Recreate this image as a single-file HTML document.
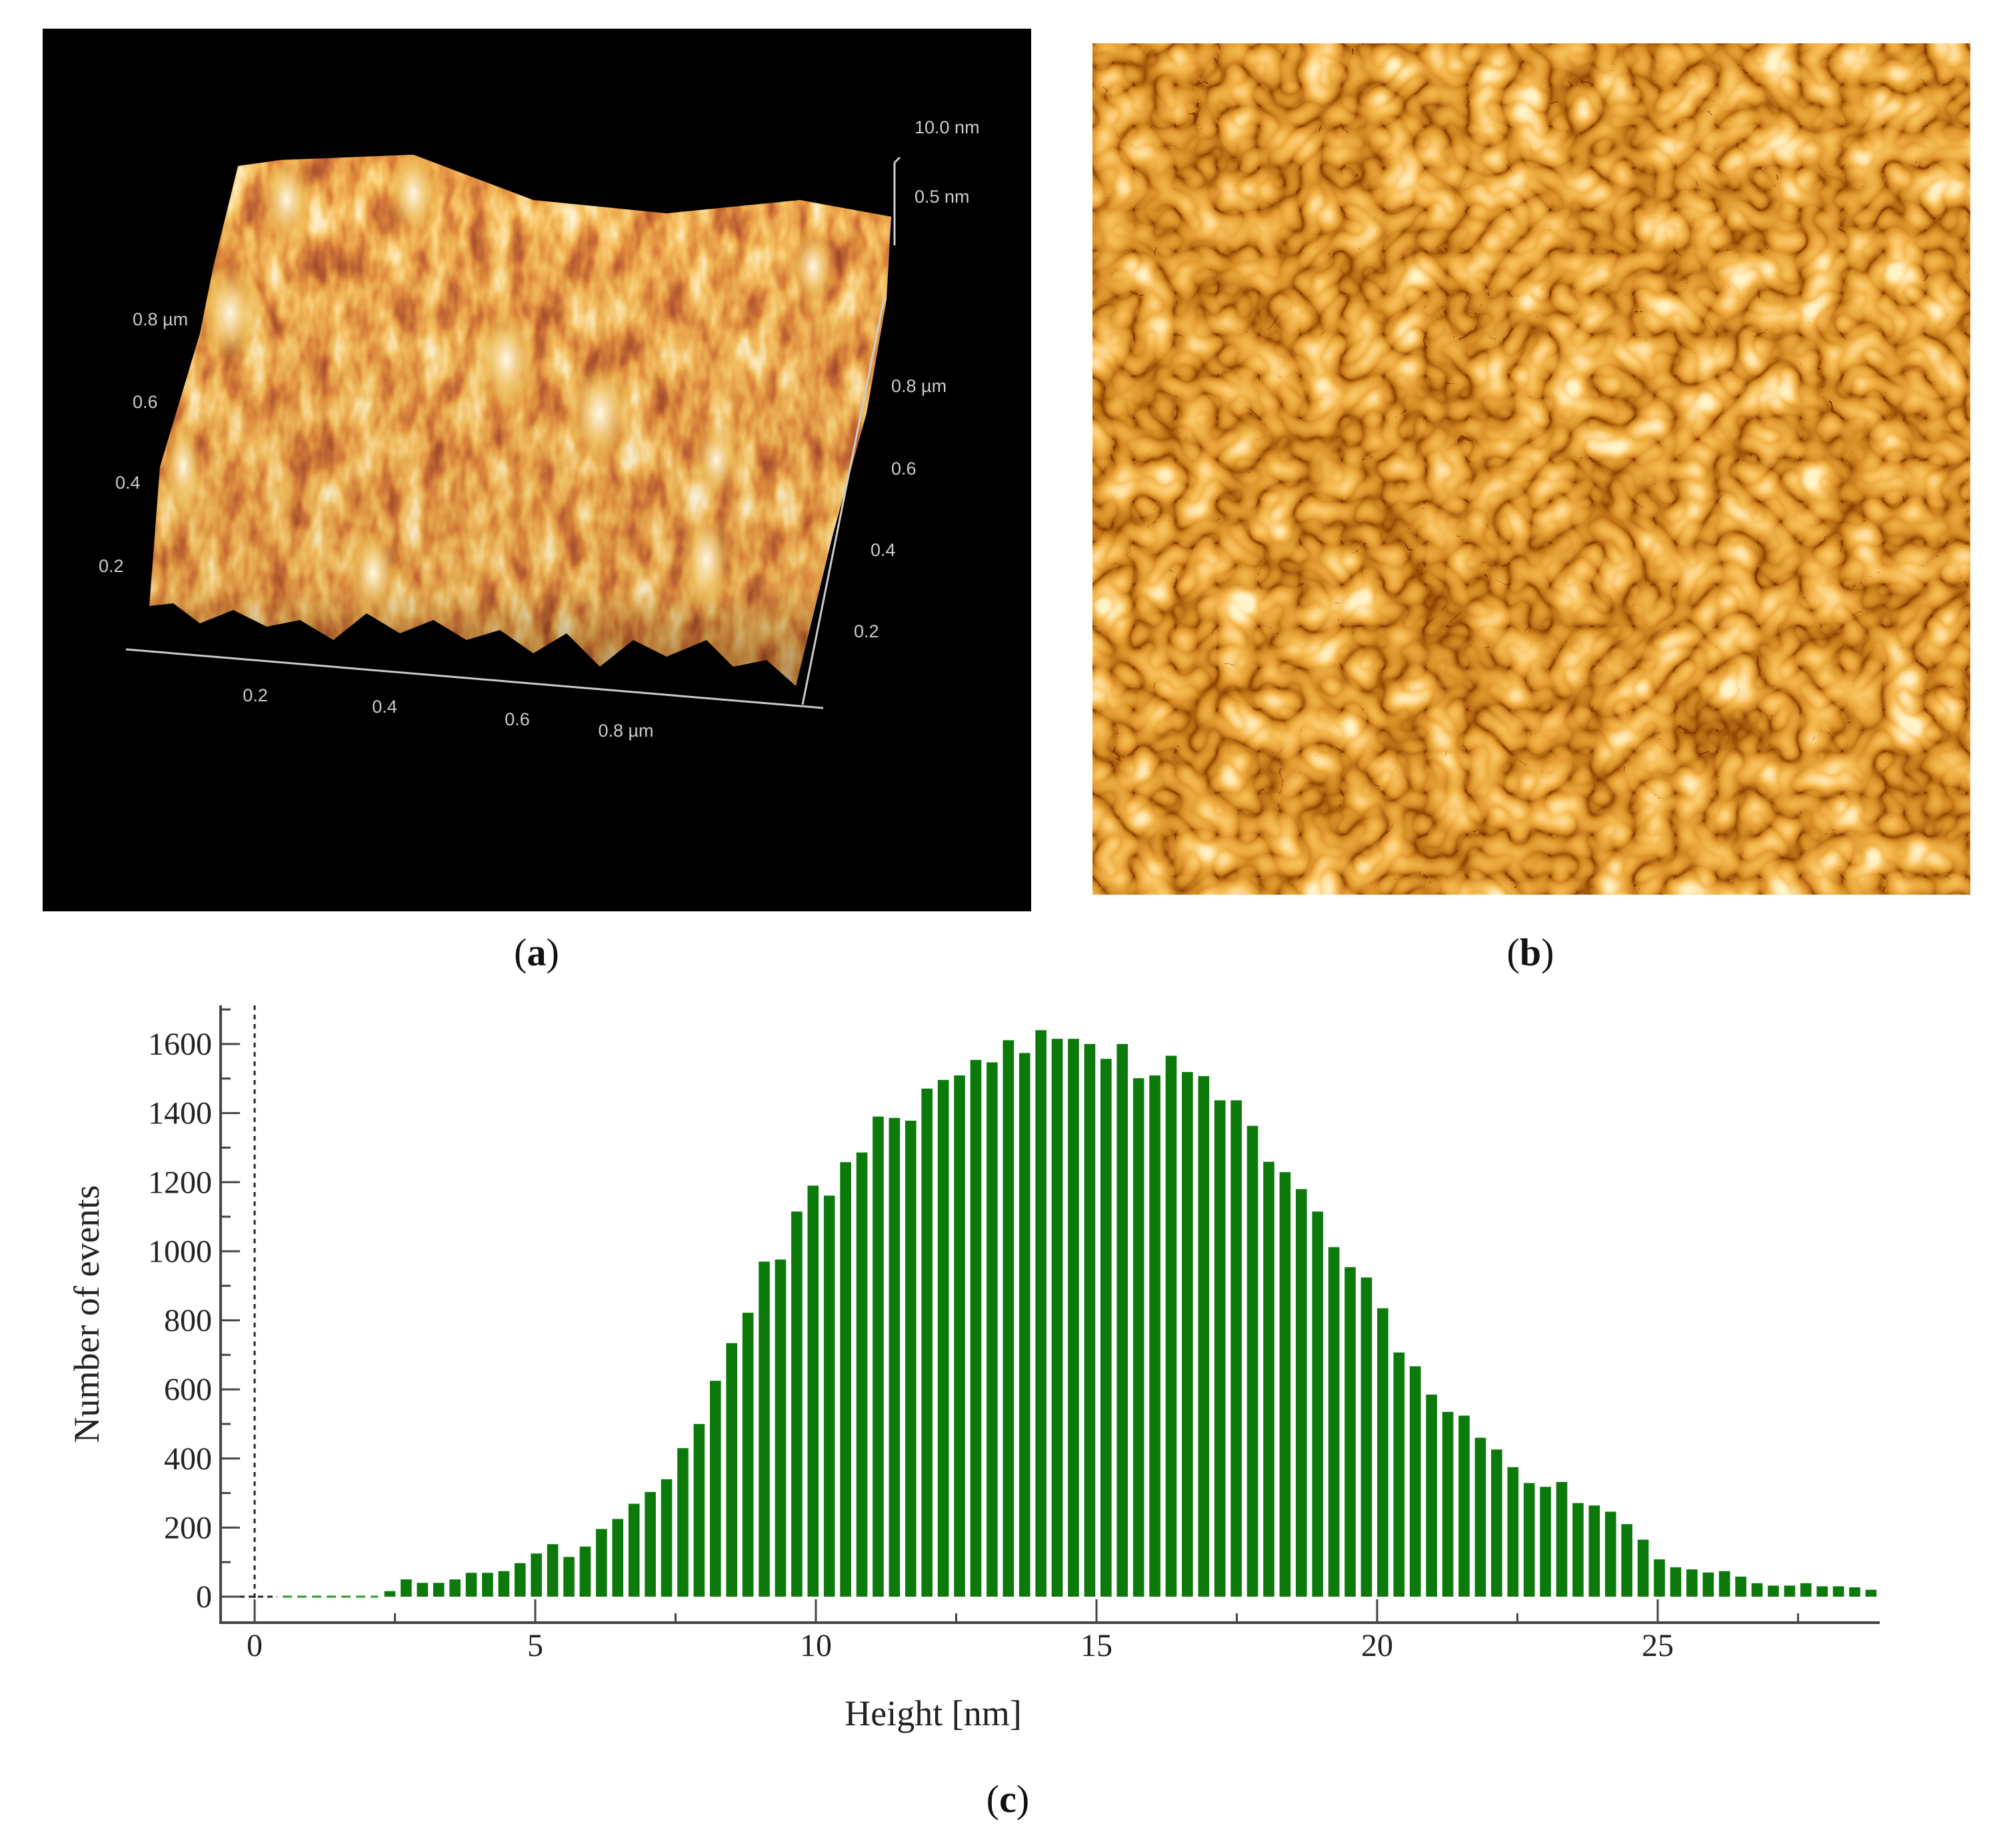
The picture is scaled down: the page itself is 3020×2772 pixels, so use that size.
<!DOCTYPE html>
<html><head><meta charset="utf-8"><style>
html,body{margin:0;padding:0;background:#fff;}
body{width:3020px;height:2772px;position:relative;overflow:hidden;font-family:"Liberation Serif",serif;}
.lbl{position:absolute;font-size:58px;color:#111;transform:translateX(-50%);}
.lbl b{font-weight:bold;}
</style></head><body>

<svg style="position:absolute;left:0;top:0" width="1600" height="1400">
  <defs>
    <filter id="fa" x="0" y="0" width="100%" height="100%">
      <feTurbulence type="fractalNoise" baseFrequency="0.03 0.014" numOctaves="3" seed="4"/>
      <feColorMatrix type="matrix" values="1 0 0 0 0  1 0 0 0 0  1 0 0 0 0  0 0 0 0 1"/>
      <feComponentTransfer>
        <feFuncR type="table" tableValues="0.3 0.35 0.45 0.6 0.75 0.85 0.93 0.98 1 1 1"/>
        <feFuncG type="table" tableValues="0.05 0.07 0.1 0.16 0.26 0.4 0.53 0.68 0.83 0.92 1"/>
        <feFuncB type="table" tableValues="0.02 0.02 0.03 0.04 0.05 0.08 0.12 0.25 0.5 0.75 0.9"/>
      </feComponentTransfer>
    </filter>
    <clipPath id="surf"><polygon points="357,249 420,240 620,232 800,300 1000,320 1200,300 1337,325 1330,450 1300,620 1250,800 1194,1029 1150,990 1100,1000 1060,960 1000,985 950,960 900,1000 850,950 800,980 750,945 700,960 650,930 600,950 550,920 500,960 450,930 400,940 350,915 300,935 260,905 224,909 240,700 300,500 320,400"/></clipPath>
    <radialGradient id="pk"><stop offset="0" stop-color="#fff8e8"/><stop offset="0.5" stop-color="#f0c870" stop-opacity="0.8"/><stop offset="1" stop-color="#e0a030" stop-opacity="0"/></radialGradient>
    <linearGradient id="shade" x1="0" y1="0" x2="0" y2="1"><stop offset="0" stop-color="#000" stop-opacity="0"/><stop offset="0.8" stop-color="#000" stop-opacity="0.05"/><stop offset="1" stop-color="#4a1000" stop-opacity="0.45"/></linearGradient>
  </defs>
  <rect x="64" y="43" width="1483" height="1324" fill="#000"/>
  <g clip-path="url(#surf)">
    <rect x="200" y="220" width="1160" height="830" filter="url(#fa)"/>
    <rect x="200" y="220" width="1160" height="830" fill="url(#shade)"/>
    <ellipse cx="430" cy="300" rx="40" ry="70" fill="url(#pk)"/>
    <ellipse cx="620" cy="290" rx="40" ry="70" fill="url(#pk)"/>
    <ellipse cx="345" cy="470" rx="45" ry="80" fill="url(#pk)"/>
    <ellipse cx="760" cy="540" rx="45" ry="80" fill="url(#pk)"/>
    <ellipse cx="900" cy="620" rx="50" ry="80" fill="url(#pk)"/>
    <ellipse cx="1060" cy="840" rx="40" ry="80" fill="url(#pk)"/>
    <ellipse cx="560" cy="860" rx="40" ry="70" fill="url(#pk)"/>
    <ellipse cx="275" cy="700" rx="30" ry="70" fill="url(#pk)"/>
    <ellipse cx="1220" cy="400" rx="35" ry="60" fill="url(#pk)"/>
    <ellipse cx="1075" cy="690" rx="35" ry="60" fill="url(#pk)"/>
  </g>
  <g stroke="#ccc" stroke-width="3" fill="none">
    <line x1="189" y1="974" x2="1235" y2="1062"/>
    <line x1="1204" y1="1057" x2="1327" y2="445"/>
    <line x1="1342" y1="244" x2="1342" y2="368"/>
    <line x1="1342" y1="244" x2="1350" y2="236"/>
  </g>
  <g fill="#ccc" font-family="Liberation Sans, sans-serif" font-size="27">
    <text x="1372" y="200">10.0 nm</text><text x="1372" y="304">0.5 nm</text>
    <text x="199" y="488">0.8 µm</text><text x="199" y="612">0.6</text><text x="173" y="733">0.4</text><text x="148" y="858">0.2</text>
    <text x="1337" y="588">0.8 µm</text><text x="1337" y="712">0.6</text><text x="1306" y="834">0.4</text><text x="1281" y="956">0.2</text>
    <text x="383" y="1052" text-anchor="middle">0.2</text><text x="577" y="1069" text-anchor="middle">0.4</text><text x="776" y="1088" text-anchor="middle">0.6</text><text x="939" y="1105" text-anchor="middle">0.8 µm</text>
  </g>
</svg>

<svg style="position:absolute;left:1639px;top:65px" width="1317" height="1277">
  <defs>
    <filter id="fb" x="0" y="0" width="100%" height="100%">
      <feTurbulence type="turbulence" baseFrequency="0.016" numOctaves="2" seed="7"/>
      <feColorMatrix type="matrix" values="1.5 0 0 0 0  1.5 0 0 0 0  1.5 0 0 0 0  0 0 0 0 1"/>
      <feComponentTransfer>
        <feFuncR type="table" tableValues="0.25 0.5 0.68 0.78 0.86 0.93 0.98 1 1"/>
        <feFuncG type="table" tableValues="0.05 0.16 0.27 0.35 0.43 0.52 0.64 0.78 0.9"/>
        <feFuncB type="table" tableValues="0 0.01 0.02 0.04 0.06 0.1 0.22 0.4 0.58"/>
      </feComponentTransfer>
    </filter>
  </defs>
  <rect x="0" y="0" width="1317" height="1277" filter="url(#fb)"/>
</svg>

<div class="lbl" style="left:805px;top:1395px">(<b>a</b>)</div>
<div class="lbl" style="left:2296px;top:1395px">(<b>b</b>)</div>
<div class="lbl" style="left:1512px;top:2665px">(<b>c</b>)</div>

<svg id="hist" style="position:absolute;left:0;top:0" width="3020" height="2772"></svg>

<script>
const heights = [16,50,40,40,50,69,69,74,97,125,152,115,145,196,225,269,303,340,430,500,625,734,822,970,976,1115,1190,1161,1258,1286,1390,1386,1378,1471,
1496,1509,1554,1547,1611,1574,1640,1615,1615,1600,1557,1600,1501,1509,1566,1519,1507,1437,1437,1363,1259,1229,1180,1115,1012,954,924,835,707,667,585,535,524,460,426,375,329,318,332,271,264,246,210,165,108,85,79,70,74,58,39,32,32,39,30,30,27,20];
const binStart = 2.41;
const binWidth = 0.29;
const xTicks = [0,5,10,15,20,25];
const yTicks = [0,200,400,600,800,1000,1200,1400,1600];

const NS = "http://www.w3.org/2000/svg";
const svg = document.getElementById('hist');
const X0 = 382, XS = 84.2, Y0 = 2395, YS = 829/1600;
const sx = v => X0 + v*XS;
const sy = v => Y0 - v*YS;
function mk(tag, attrs){ const e=document.createElementNS(NS,tag); for(const k in attrs) e.setAttribute(k,attrs[k]); svg.appendChild(e); return e; }

heights.forEach((h,i)=>{
  const c = binStart + i*binWidth;
  const w = binWidth*XS*0.68;
  const r = mk('rect',{x:sx(c)-w/2, y:sy(h), width:w, height:Y0-sy(h), fill:'#0b7a0b'});
  
  
});
const dl = mk('line',{x1:331,y1:Y0,x2:sx(0.4),y2:Y0,stroke:'#222','stroke-width':3,'stroke-dasharray':'8 6'});


const gl = mk('line',{x1:sx(0.5),y1:Y0,x2:sx(2.2),y2:Y0,stroke:'#2a9a2a','stroke-width':3,'stroke-dasharray':'14 8'});


const vd = mk('line',{x1:sx(0),y1:1508,x2:sx(0),y2:2434,stroke:'#222','stroke-width':3,'stroke-dasharray':'7 7'});



const ya = mk('line',{x1:331,y1:1508,x2:331,y2:2436,stroke:'#444','stroke-width':4});


const xa = mk('line',{x1:329,y1:2434,x2:2820,y2:2434,stroke:'#444','stroke-width':4});



for(let v=0; v<=1700; v+=100){
  const major = v%200===0;
  mk('line',{x1:331,y1:sy(v),x2:major?360:346,y2:sy(v),stroke:'#444','stroke-width':3});
}
yTicks.forEach(v=>{
  const t = mk('text',{x:318,y:sy(v)+16,'text-anchor':'end','font-size':48,fill:'#222','font-family':'Liberation Serif, serif'});
  t.textContent = v;
  
  
});
for(let v=0; v<=27.5; v+=2.5){
  const major = v%5===0;
  mk('line',{x1:sx(v),y1:2434,x2:sx(v),y2:major?2399:2420,stroke:'#444','stroke-width':3});
}
xTicks.forEach(v=>{
  const t = mk('text',{x:sx(v),y:2484,'text-anchor':'middle','font-size':48,fill:'#222','font-family':'Liberation Serif, serif'});
  t.textContent = v;
  
  
});
const xt = mk('text',{x:1400,y:2588,'text-anchor':'middle','font-size':54,fill:'#222','font-family':'Liberation Serif, serif'});
xt.textContent = 'Height [nm]';


const yt = mk('text',{x:0,y:0,'text-anchor':'middle','font-size':54,fill:'#222','font-family':'Liberation Serif, serif',transform:'translate(148,1971) rotate(-90)'});
yt.textContent = 'Number of events';


</script>
</body></html>
